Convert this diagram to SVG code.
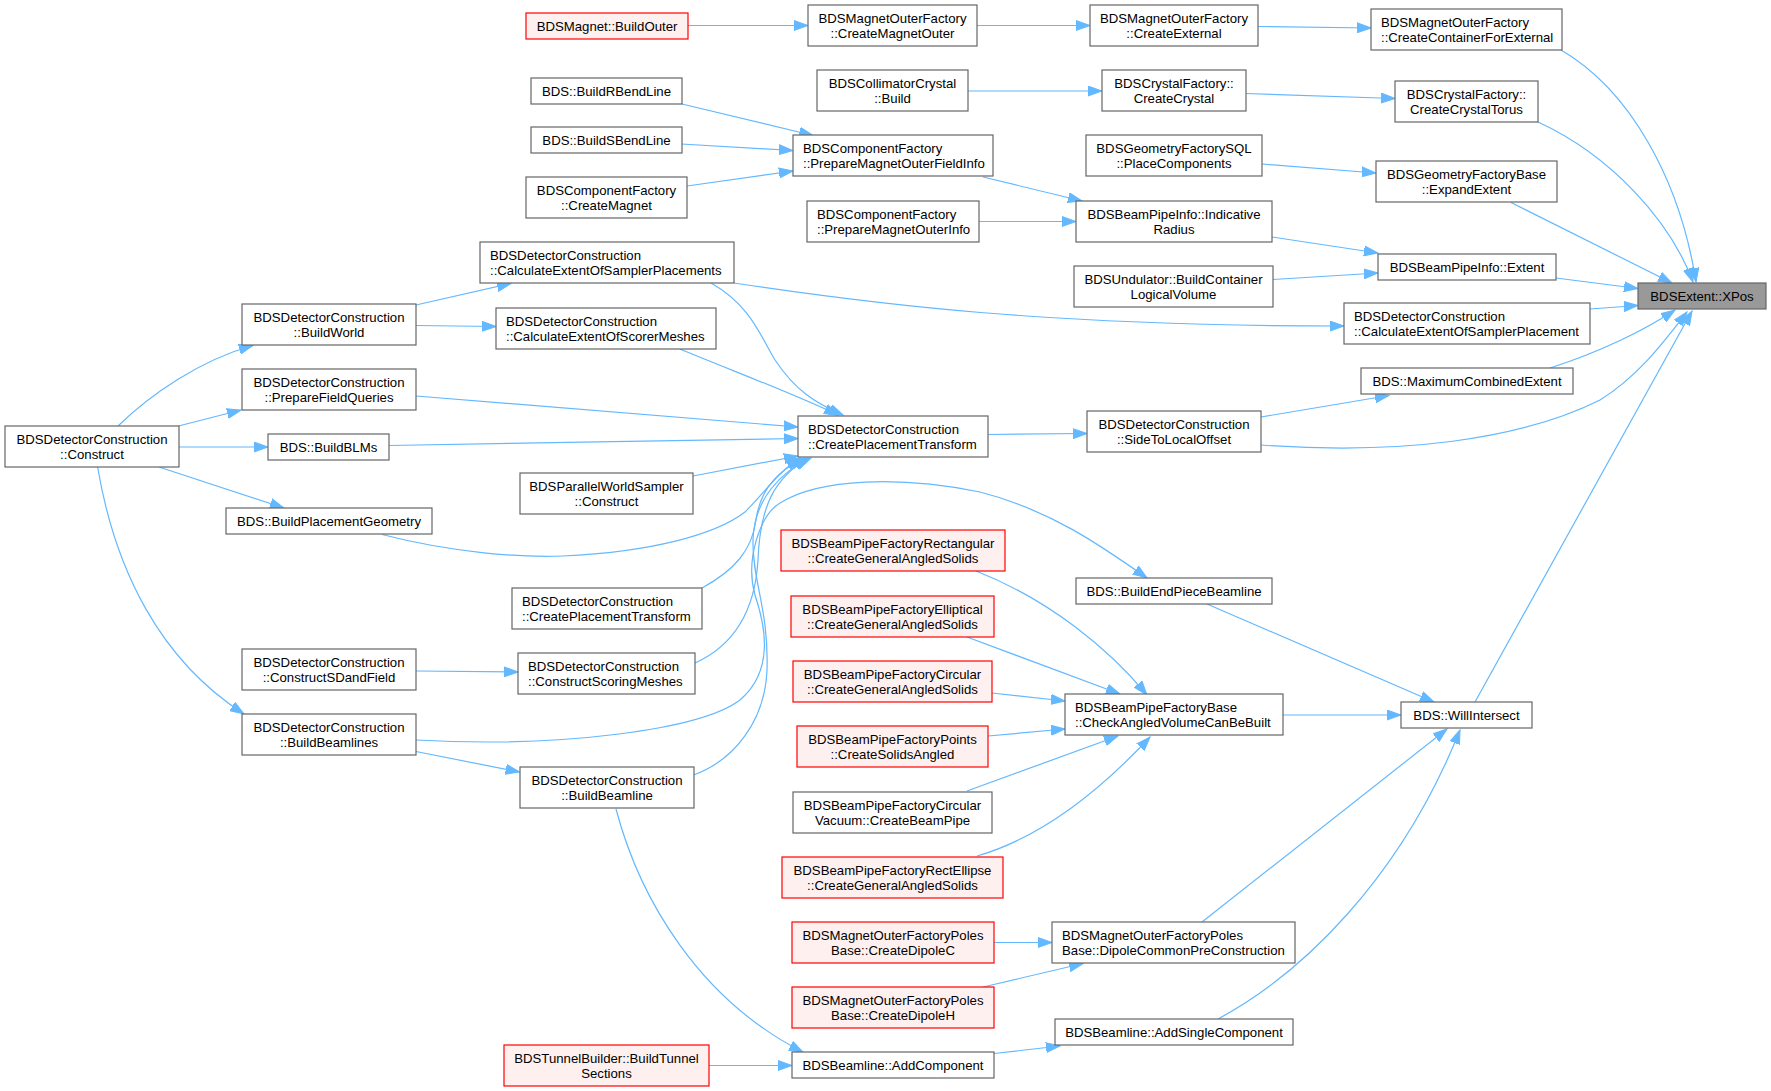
<svg xmlns="http://www.w3.org/2000/svg" width="1771" height="1091" viewBox="0 0 1771 1091">
<style>
rect{stroke-width:1.2}
.n rect{fill:#ffffff;stroke:#666666}
.r rect{fill:#fff0f0;stroke:#ff0000}
.g rect{fill:#999999;stroke:#666666}
text{font-family:"Liberation Sans",Arial,Helvetica,sans-serif;font-size:13.2px;fill:#000;text-anchor:middle}
text.l{text-anchor:start}
#edges path{fill:none;stroke:#63b8ff;stroke-width:1.2;marker-end:url(#arr)}
</style>
<defs>
<marker id="arr" markerUnits="userSpaceOnUse" markerWidth="15" markerHeight="11" refX="14" refY="5" orient="auto" viewBox="0 0 15 10">
<path d="M0,0 L14,5 L0,10 Z" fill="#63b8ff" stroke="#63b8ff" stroke-width="1"/>
</marker>
</defs>
<rect x="0" y="0" width="1771" height="1091" fill="#ffffff"/>
<g id="edges">
<path d="M688,25.5 L808,25.5"/>
<path d="M977,25.5 L1090,25.5"/>
<path d="M1258,26.5 L1371,28"/>
<path d="M1561,50 C1630,90 1680,180 1696,282"/>
<path d="M968,91 L1102,91"/>
<path d="M1246,93.5 L1395,98.5"/>
<path d="M1538,122 C1610,155 1670,220 1693,282"/>
<path d="M682,104 L813,135.5"/>
<path d="M681,144 L793,150.5"/>
<path d="M687,186 L793,171"/>
<path d="M983,177 L1082,201"/>
<path d="M1262,164 L1376,173"/>
<path d="M979,221.5 L1076,221.5"/>
<path d="M1511,202.5 L1672,283"/>
<path d="M1272,237 L1378,253"/>
<path d="M1273,279.5 L1378,273"/>
<path d="M1556,278 L1638,288.5"/>
<path d="M734,283 C880,305 1050,326 1344,326"/>
<path d="M1590,309 L1638,305.5"/>
<path d="M1550,368 C1600,352 1645,330 1675,310"/>
<path d="M1261,445 C1400,455 1520,440 1600,400 C1640,375 1665,340 1687,312"/>
<path d="M1475,702 L1692,311"/>
<path d="M988,434.5 L1087,433.5"/>
<path d="M1261,417 L1389,395.5"/>
<path d="M1207,604 L1434,702"/>
<path d="M1283,715 L1401,715"/>
<path d="M1202,922 L1447,729"/>
<path d="M1218,1019 C1300,975 1400,880 1460,730"/>
<path d="M994,942.5 L1052,942.5"/>
<path d="M983,987 L1083,963.5"/>
<path d="M994,1053.5 L1060,1046"/>
<path d="M709,1065.5 L792,1065.5"/>
<path d="M616,809 C640,900 700,1000 803,1052"/>
<path d="M976,571 C1050,600 1110,650 1147,695"/>
<path d="M967,637 L1120,694"/>
<path d="M992,693 L1065,701"/>
<path d="M988,736 L1065,729"/>
<path d="M967,791 L1118,736"/>
<path d="M977,856 C1050,835 1110,780 1150,737"/>
<path d="M416,740 C560,748 700,730 740,700 C775,670 765,625 755,595 C745,560 760,515 780,503 C820,478 900,476 980,492 C1050,510 1100,545 1147,578"/>
<path d="M693.5,775 C735,760 765,720 767,670 C769,610 752,580 753,540 C754,500 780,472 811,458"/>
<path d="M695,663 C735,645 755,610 758,560 C760,505 775,478 808,458"/>
<path d="M702,588 C735,570 752,550 756,520 C760,490 778,470 805,458"/>
<path d="M382,534.5 C450,552 520,558 563,556 C650,552 715,535 745,512 C765,492 780,470 800,458"/>
<path d="M693,476 L798,456"/>
<path d="M416,396 L798,427"/>
<path d="M389,445.5 L798,438.5"/>
<path d="M711,283 C750,305 760,335 775,360 C795,390 815,403 843,415"/>
<path d="M680,349 C730,370 790,392 838,415"/>
<path d="M118,426 C150,395 200,360 253,345.5"/>
<path d="M178.5,426 L241,410"/>
<path d="M178.5,447 L268,447"/>
<path d="M159,467 L284,508"/>
<path d="M97.6,467 C115,570 160,660 244,714"/>
<path d="M416,305 L511,283.4"/>
<path d="M416,325.5 L496,326.5"/>
<path d="M416,671 L518,672"/>
<path d="M416,751.5 L519.5,772"/>
</g>
<g id="n1" class="n"><rect x="5" y="426" width="174" height="41"/><text x="92" y="443.7">BDSDetectorConstruction</text><text x="92" y="458.7">::Construct</text></g>
<g id="n2" class="n"><rect x="242" y="304" width="174" height="41"/><text x="329" y="321.7">BDSDetectorConstruction</text><text x="329" y="336.7">::BuildWorld</text></g>
<g id="n3" class="n"><rect x="242" y="369" width="174" height="41"/><text x="329" y="386.7">BDSDetectorConstruction</text><text x="329" y="401.7">::PrepareFieldQueries</text></g>
<g id="n4" class="n"><rect x="268" y="434" width="121" height="26"/><text x="328.5" y="451.7">BDS::BuildBLMs</text></g>
<g id="n5" class="n"><rect x="226" y="508" width="206" height="26"/><text x="329" y="525.7">BDS::BuildPlacementGeometry</text></g>
<g id="n6" class="n"><rect x="242" y="649" width="174" height="41"/><text x="329" y="666.7">BDSDetectorConstruction</text><text x="329" y="681.7">::ConstructSDandField</text></g>
<g id="n7" class="n"><rect x="242" y="714" width="174" height="41"/><text x="329" y="731.7">BDSDetectorConstruction</text><text x="329" y="746.7">::BuildBeamlines</text></g>
<g id="n8" class="r"><rect x="526" y="13" width="162" height="26"/><text x="607" y="30.7">BDSMagnet::BuildOuter</text></g>
<g id="n9" class="n"><rect x="531" y="78" width="151" height="26"/><text x="606.5" y="95.7">BDS::BuildRBendLine</text></g>
<g id="n10" class="n"><rect x="531" y="127" width="151" height="26"/><text x="606.5" y="144.7">BDS::BuildSBendLine</text></g>
<g id="n11" class="n"><rect x="526" y="177" width="161" height="41"/><text x="606.5" y="194.7">BDSComponentFactory</text><text x="606.5" y="209.7">::CreateMagnet</text></g>
<g id="n12" class="n"><rect x="480" y="242" width="254" height="41"/><text class="l" x="490" y="259.7">BDSDetectorConstruction</text><text class="l" x="490" y="274.7">::CalculateExtentOfSamplerPlacements</text></g>
<g id="n13" class="n"><rect x="496" y="308" width="220" height="41"/><text class="l" x="506" y="325.7">BDSDetectorConstruction</text><text class="l" x="506" y="340.7">::CalculateExtentOfScorerMeshes</text></g>
<g id="n14" class="n"><rect x="520" y="473" width="173" height="41"/><text x="606.5" y="490.7">BDSParallelWorldSampler</text><text x="606.5" y="505.7">::Construct</text></g>
<g id="n15" class="n"><rect x="512" y="588" width="190" height="41"/><text class="l" x="522" y="605.7">BDSDetectorConstruction</text><text class="l" x="522" y="620.7">::CreatePlacementTransform</text></g>
<g id="n16" class="n"><rect x="518" y="653" width="177" height="41"/><text class="l" x="528" y="670.7">BDSDetectorConstruction</text><text class="l" x="528" y="685.7">::ConstructScoringMeshes</text></g>
<g id="n17" class="n"><rect x="520" y="767" width="174" height="41"/><text x="607" y="784.7">BDSDetectorConstruction</text><text x="607" y="799.7">::BuildBeamline</text></g>
<g id="n18" class="r"><rect x="504" y="1045" width="205" height="41"/><text x="606.5" y="1062.7">BDSTunnelBuilder::BuildTunnel</text><text x="606.5" y="1077.7">Sections</text></g>
<g id="n19" class="n"><rect x="808" y="5" width="169" height="41"/><text x="892.5" y="22.7">BDSMagnetOuterFactory</text><text x="892.5" y="37.7">::CreateMagnetOuter</text></g>
<g id="n20" class="n"><rect x="817" y="70" width="151" height="41"/><text x="892.5" y="87.7">BDSCollimatorCrystal</text><text x="892.5" y="102.7">::Build</text></g>
<g id="n21" class="n"><rect x="793" y="135" width="200" height="41"/><text class="l" x="803" y="152.7">BDSComponentFactory</text><text class="l" x="803" y="167.7">::PrepareMagnetOuterFieldInfo</text></g>
<g id="n22" class="n"><rect x="807" y="201" width="172" height="41"/><text class="l" x="817" y="218.7">BDSComponentFactory</text><text class="l" x="817" y="233.7">::PrepareMagnetOuterInfo</text></g>
<g id="n23" class="n"><rect x="798" y="416" width="190" height="41"/><text class="l" x="808" y="433.7">BDSDetectorConstruction</text><text class="l" x="808" y="448.7">::CreatePlacementTransform</text></g>
<g id="n24" class="r"><rect x="781" y="530" width="224" height="41"/><text x="893" y="547.7">BDSBeamPipeFactoryRectangular</text><text x="893" y="562.7">::CreateGeneralAngledSolids</text></g>
<g id="n25" class="r"><rect x="791" y="596" width="203" height="41"/><text x="892.5" y="613.7">BDSBeamPipeFactoryElliptical</text><text x="892.5" y="628.7">::CreateGeneralAngledSolids</text></g>
<g id="n26" class="r"><rect x="793" y="661" width="199" height="41"/><text x="892.5" y="678.7">BDSBeamPipeFactoryCircular</text><text x="892.5" y="693.7">::CreateGeneralAngledSolids</text></g>
<g id="n27" class="r"><rect x="797" y="726" width="191" height="41"/><text x="892.5" y="743.7">BDSBeamPipeFactoryPoints</text><text x="892.5" y="758.7">::CreateSolidsAngled</text></g>
<g id="n28" class="n"><rect x="793" y="792" width="199" height="41"/><text x="892.5" y="809.7">BDSBeamPipeFactoryCircular</text><text x="892.5" y="824.7">Vacuum::CreateBeamPipe</text></g>
<g id="n29" class="r"><rect x="782" y="857" width="221" height="41"/><text x="892.5" y="874.7">BDSBeamPipeFactoryRectEllipse</text><text x="892.5" y="889.7">::CreateGeneralAngledSolids</text></g>
<g id="n30" class="r"><rect x="792" y="922" width="202" height="41"/><text x="893" y="939.7">BDSMagnetOuterFactoryPoles</text><text x="893" y="954.7">Base::CreateDipoleC</text></g>
<g id="n31" class="r"><rect x="792" y="987" width="202" height="41"/><text x="893" y="1004.7">BDSMagnetOuterFactoryPoles</text><text x="893" y="1019.7">Base::CreateDipoleH</text></g>
<g id="n32" class="n"><rect x="792" y="1052" width="202" height="26"/><text x="893" y="1069.7">BDSBeamline::AddComponent</text></g>
<g id="n33" class="n"><rect x="1090" y="5" width="168" height="41"/><text x="1174" y="22.7">BDSMagnetOuterFactory</text><text x="1174" y="37.7">::CreateExternal</text></g>
<g id="n34" class="n"><rect x="1102" y="70" width="144" height="41"/><text x="1174" y="87.7">BDSCrystalFactory::</text><text x="1174" y="102.7">CreateCrystal</text></g>
<g id="n35" class="n"><rect x="1086" y="135" width="176" height="41"/><text x="1174" y="152.7">BDSGeometryFactorySQL</text><text x="1174" y="167.7">::PlaceComponents</text></g>
<g id="n36" class="n"><rect x="1076" y="201" width="196" height="41"/><text x="1174" y="218.7">BDSBeamPipeInfo::Indicative</text><text x="1174" y="233.7">Radius</text></g>
<g id="n37" class="n"><rect x="1074" y="266" width="199" height="41"/><text x="1173.5" y="283.7">BDSUndulator::BuildContainer</text><text x="1173.5" y="298.7">LogicalVolume</text></g>
<g id="n38" class="n"><rect x="1087" y="411" width="174" height="41"/><text x="1174" y="428.7">BDSDetectorConstruction</text><text x="1174" y="443.7">::SideToLocalOffset</text></g>
<g id="n39" class="n"><rect x="1076" y="578" width="196" height="26"/><text x="1174" y="595.7">BDS::BuildEndPieceBeamline</text></g>
<g id="n40" class="n"><rect x="1065" y="694" width="218" height="41"/><text class="l" x="1075" y="711.7">BDSBeamPipeFactoryBase</text><text class="l" x="1075" y="726.7">::CheckAngledVolumeCanBeBuilt</text></g>
<g id="n41" class="n"><rect x="1052" y="922" width="243" height="41"/><text class="l" x="1062" y="939.7">BDSMagnetOuterFactoryPoles</text><text class="l" x="1062" y="954.7">Base::DipoleCommonPreConstruction</text></g>
<g id="n42" class="n"><rect x="1055" y="1019" width="238" height="26"/><text x="1174" y="1036.7">BDSBeamline::AddSingleComponent</text></g>
<g id="n43" class="n"><rect x="1371" y="9" width="191" height="41"/><text class="l" x="1381" y="26.7">BDSMagnetOuterFactory</text><text class="l" x="1381" y="41.7">::CreateContainerForExternal</text></g>
<g id="n44" class="n"><rect x="1395" y="81" width="143" height="41"/><text x="1466.5" y="98.7">BDSCrystalFactory::</text><text x="1466.5" y="113.7">CreateCrystalTorus</text></g>
<g id="n45" class="n"><rect x="1376" y="161" width="181" height="41"/><text x="1466.5" y="178.7">BDSGeometryFactoryBase</text><text x="1466.5" y="193.7">::ExpandExtent</text></g>
<g id="n46" class="n"><rect x="1378" y="254" width="178" height="26"/><text x="1467" y="271.7">BDSBeamPipeInfo::Extent</text></g>
<g id="n47" class="n"><rect x="1344" y="303" width="246" height="41"/><text class="l" x="1354" y="320.7">BDSDetectorConstruction</text><text class="l" x="1354" y="335.7">::CalculateExtentOfSamplerPlacement</text></g>
<g id="n48" class="n"><rect x="1361" y="368" width="212" height="26"/><text x="1467" y="385.7">BDS::MaximumCombinedExtent</text></g>
<g id="n49" class="n"><rect x="1401" y="702" width="131" height="26"/><text x="1466.5" y="719.7">BDS::WillIntersect</text></g>
<g id="n50" class="g"><rect x="1638" y="283" width="128" height="26"/><text x="1702" y="300.7">BDSExtent::XPos</text></g>
</svg>
